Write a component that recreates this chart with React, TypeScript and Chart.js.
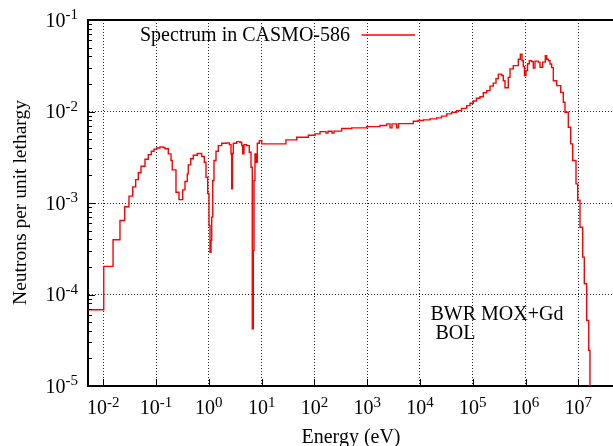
import React, { useEffect, useRef } from "react";
import { Chart, registerables } from "chart.js";

Chart.register(...registerables);

// ---- Data ----
// Lower group boundaries (eV) of the stepped spectrum
const energy = [
  5.13e-3, 1.02e-2, 1.53e-2, 2.07e-2, 2.54e-2, 3.07e-2, 3.61e-2, 4.11e-2, 4.61e-2, 5.18e-2,
  6.17e-2, 7.12e-2, 8.12e-2, 9.13e-2, 0.1027, 0.1187, 0.1353, 0.1476, 0.1704, 0.1917,
  0.2029, 0.2384, 0.2718, 0.3193, 0.3532, 0.3904, 0.4079, 0.4529, 0.5072, 0.604,
  0.7316, 0.8196, 0.8826, 0.9506, 1.006, 1.051, 1.098, 1.132, 1.183, 1.251,
  1.366, 1.51, 1.751, 2.178, 2.44, 2.627, 2.708, 2.805, 2.905, 3.37,
  3.89, 4.19, 4.38, 4.63, 5.21, 5.84, 6.29, 6.65, 6.95, 7.17,
  7.48, 7.82, 8.28, 9.03, 10.03, 28.9, 46.2, 76.6, 102.6, 127.6,
  165.8, 180.9, 215.4, 235, 328.7, 508.6, 978, 1747, 2342, 2704,
  2951, 3622, 3918, 7470, 9173, 1.156e4, 1.548e4, 2.074e4, 2.557e4, 3.21e4,
  3.956e4, 4.96e4, 6.12e4, 7.68e4, 8.87e4, 1.024e5, 1.177e5, 1.372e5, 1.584e5, 1.837e5,
  2.122e5, 2.45e5, 2.756e5, 3.05e5, 3.53e5, 3.79e5, 4.08e5, 4.71e5, 5.08e5, 5.86e5,
  7.29e5, 7.96e5, 8.57e5, 9.07e5, 9.56e5, 1.02e6, 1.089e6, 1.178e6, 1.308e6, 1.403e6,
  1.511e6, 1.745e6, 1.879e6, 2.114e6, 2.368e6, 2.518e6, 2.699e6, 2.907e6, 3.13e6, 3.36e6,
  3.89e6, 4.64e6, 5.19e6, 5.59e6, 6.46e6, 7.17e6, 7.83e6, 9.04e6, 9.73e6, 1.076e7,
  1.211e7, 1.298e7, 1.441e7, 1.573e7, 1.665e7, 2.0e7,
];

// Neutrons per unit lethargy for each group
const flux = [
  6.82e-5, 2.03e-4, 3.96e-4, 6.44e-4, 9.09e-4, 1.19e-3, 1.5e-3, 1.8e-3, 2.14e-3, 2.52e-3,
  3.01e-3, 3.38e-3, 3.68e-3, 3.87e-3, 3.99e-3, 4.11e-3, 4.04e-3, 3.91e-3, 3.44e-3, 2.91e-3,
  2.3e-3, 1.31e-3, 1.09e-3, 1.39e-3, 1.72e-3, 2.08e-3, 2.61e-3, 3.04e-3, 3.33e-3, 3.47e-3,
  3.22e-3, 2.79e-3, 1.91e-3, 1.27e-3, 5.68e-4, 2.9e-4, 3.9e-4, 7.0e-4, 1.76e-3, 2.91e-3,
  3.68e-3, 4.24e-3, 4.5e-3, 4.54e-3, 4.35e-3, 3.44e-3, 1.43e-3, 3.47e-3, 4.5e-3, 4.69e-3,
  4.61e-3, 4.24e-3, 3.44e-3, 4.35e-3, 4.24e-3, 3.59e-3, 2.46e-3, 4.23e-5, 3.03e-4, 1.76e-3,
  3.44e-3, 2.79e-3, 4.5e-3, 4.81e-3, 4.43e-3, 4.9e-3, 5.23e-3, 5.5e-3, 5.69e-3, 6.03e-3,
  5.81e-3, 6.08e-3, 5.83e-3, 6.1e-3, 6.51e-3, 6.62e-3, 6.84e-3, 7.02e-3, 7.32e-3, 6.62e-3,
  7.32e-3, 6.62e-3, 7.37e-3, 7.82e-3, 7.96e-3, 8.1e-3, 8.3e-3, 8.51e-3, 8.91e-3, 9.41e-3,
  9.77e-3, 1.023e-2, 1.083e-2, 1.16e-2, 1.229e-2, 1.3e-2, 1.397e-2, 1.45e-2, 1.6e-2, 1.69e-2,
  1.894e-2, 2.04e-2, 2.287e-2, 2.56e-2, 2.47e-2, 2.17e-2, 1.82e-2, 2.36e-2, 2.92e-2, 3.17e-2,
  3.73e-2, 4.23e-2, 3.59e-2, 3.09e-2, 2.47e-2, 2.8e-2, 3.33e-2, 3.59e-2, 3.51e-2, 2.98e-2,
  3.55e-2, 3.46e-2, 3.04e-2, 3.46e-2, 4.08e-2, 3.73e-2, 3.59e-2, 3.31e-2, 3.02e-2, 2.17e-2,
  1.92e-2, 1.62e-2, 1.26e-2, 9.8e-3, 6.72e-3, 4.43e-3, 2.91e-3, 1.62e-3, 1.07e-3, 5.44e-4,
  2.56e-4, 1.31e-4, 5.21e-5, 2.45e-5, 5e-6, 5e-6,
];

const xTickExps = [-2, -1, 0, 1, 2, 3, 4, 5, 6, 7];
const yTickExps = [-5, -4, -3, -2, -1];
const X_MIN = 5.13e-3;
const X_MAX = 4.54e7;
const Y_MIN = 1e-5;
const Y_MAX = 1e-1;

const seriesLabel = "Spectrum in CASMO-586";
const noteLines = ["BWR MOX+Gd", "BOL"];
const xTitle = "Energy (eV)";
const yTitle = "Neutrons per unit lethargy";

const FAMILY = "'Liberation Serif', 'Times New Roman', 'DejaVu Serif', serif";
const MAIN = 20;
const SUP = 15;
const f = (s: number) => `${s}px ${FAMILY}`;

const decorPlugin = {
  id: "decor",
  afterDraw(chart: any) {
    const { ctx, chartArea: a, scales } = chart;
    const xs = scales.x;
    const ys = scales.y;
    ctx.save();
    ctx.strokeStyle = "#000";
    ctx.fillStyle = "#000";

    // top border
    ctx.lineWidth = 2;
    ctx.beginPath();
    ctx.moveTo(a.left - 1, a.top);
    ctx.lineTo(a.right, a.top);
    ctx.stroke();

    // y ticks (major + minor), inward
    ctx.lineWidth = 1;
    ctx.beginPath();
    for (let i = 0; i < yTickExps.length; i++) {
      const e = yTickExps[i];
      const yp = Math.round(ys.getPixelForValue(Math.pow(10, e))) + 0.5;
      ctx.moveTo(a.left, yp);
      ctx.lineTo(a.left + 7, yp);
      if (i < yTickExps.length - 1) {
        for (let m = 2; m <= 9; m++) {
          const ym = Math.round(ys.getPixelForValue(m * Math.pow(10, e))) + 0.5;
          ctx.moveTo(a.left, ym);
          ctx.lineTo(a.left + 4, ym);
        }
      }
    }
    // x major ticks, inward
    for (const e of xTickExps) {
      const xp = Math.round(xs.getPixelForValue(Math.pow(10, e))) + 0.5;
      ctx.moveTo(xp, a.bottom);
      ctx.lineTo(xp, a.bottom - 7);
    }
    ctx.stroke();

    // x tick labels
    ctx.textBaseline = "alphabetic";
    for (const e of xTickExps) {
      const xp = xs.getPixelForValue(Math.pow(10, e));
      const exp = String(e);
      ctx.font = f(MAIN);
      const w1 = ctx.measureText("10").width;
      ctx.font = f(SUP);
      const w2 = ctx.measureText(exp).width;
      const x0 = xp - (w1 + w2) / 2;
      ctx.textAlign = "left";
      ctx.font = f(MAIN);
      ctx.fillText("10", x0, 413.5);
      ctx.font = f(SUP);
      ctx.fillText(exp, x0 + w1, 406.5);
    }

    // y tick labels
    for (const e of yTickExps) {
      const yp = ys.getPixelForValue(Math.pow(10, e));
      const exp = String(e);
      ctx.font = f(SUP);
      const w2 = ctx.measureText(exp).width;
      ctx.textAlign = "right";
      ctx.fillText(exp, 78, yp - 1);
      ctx.font = f(MAIN);
      ctx.fillText("10", 78 - w2, yp + 6.5);
    }

    // axis titles
    ctx.font = f(MAIN);
    ctx.textAlign = "center";
    ctx.fillText(xTitle, 351, 443);
    ctx.save();
    ctx.font = f(19.5);
    ctx.translate(26, 202.5);
    ctx.rotate(-Math.PI / 2);
    ctx.fillText(yTitle, 0, 0);
    ctx.restore();

    // legend
    ctx.font = f(MAIN);
    ctx.textAlign = "right";
    ctx.fillText(seriesLabel, 350, 40.5);
    ctx.strokeStyle = "#ff0000";
    ctx.lineWidth = 1.3;
    ctx.beginPath();
    ctx.moveTo(361.5, 35);
    ctx.lineTo(415, 35);
    ctx.stroke();

    // annotation
    ctx.textAlign = "left";
    ctx.fillText(noteLines[0], 430.5, 319.5);
    ctx.fillText(noteLines[1], 435.5, 338.5);

    ctx.restore();
  },
};

export default function App() {
  const ref = useRef<HTMLCanvasElement | null>(null);

  useEffect(() => {
    if (!ref.current) return;
    const data = energy.map((e, i) => ({ x: e, y: flux[i] }));
    const gridOpts = {
      color: "rgba(0,0,0,0.85)",
      lineWidth: 1,
      drawTicks: false,
    };
    const chart = new Chart(ref.current, {
      type: "line",
      data: {
        datasets: [
          {
            label: seriesLabel,
            data,
            borderColor: "#ff0000",
            borderWidth: 1.4,
            pointRadius: 0,
            stepped: true,
            fill: false,
          },
        ],
      },
      options: {
        responsive: false,
        animation: false,
        devicePixelRatio: 1,
        parsing: false,
        normalized: true,
        layout: { padding: { top: 20, left: 0, right: 0, bottom: 0 } },
        plugins: {
          legend: { display: false },
          tooltip: { enabled: false },
          title: { display: false },
        },
        scales: {
          x: {
            type: "logarithmic",
            min: X_MIN,
            max: X_MAX,
            afterBuildTicks: (s: any) => {
              s.ticks = xTickExps.map((e) => ({ value: Math.pow(10, e) }));
            },
            afterFit: (s: any) => {
              s.height = 60;
            },
            ticks: { display: false },
            grid: gridOpts,
            border: { display: true, color: "#000", width: 2, dash: [1, 2] },
          },
          y: {
            type: "logarithmic",
            min: Y_MIN,
            max: Y_MAX,
            afterBuildTicks: (s: any) => {
              s.ticks = yTickExps.map((e) => ({ value: Math.pow(10, e) }));
            },
            afterFit: (s: any) => {
              s.width = 88;
            },
            ticks: { display: false },
            grid: gridOpts,
            border: { display: true, color: "#000", width: 2, dash: [1, 2] },
          },
        },
      } as any,
      plugins: [decorPlugin],
    });
    return () => chart.destroy();
  }, []);

  return (
    <div
      style={{
        position: "absolute",
        left: 0,
        top: 0,
        width: 613,
        height: 446,
        overflow: "hidden",
        background: "#fff",
      }}
    >
      <canvas ref={ref} width={613} height={446} style={{ display: "block" }} />
    </div>
  );
}
